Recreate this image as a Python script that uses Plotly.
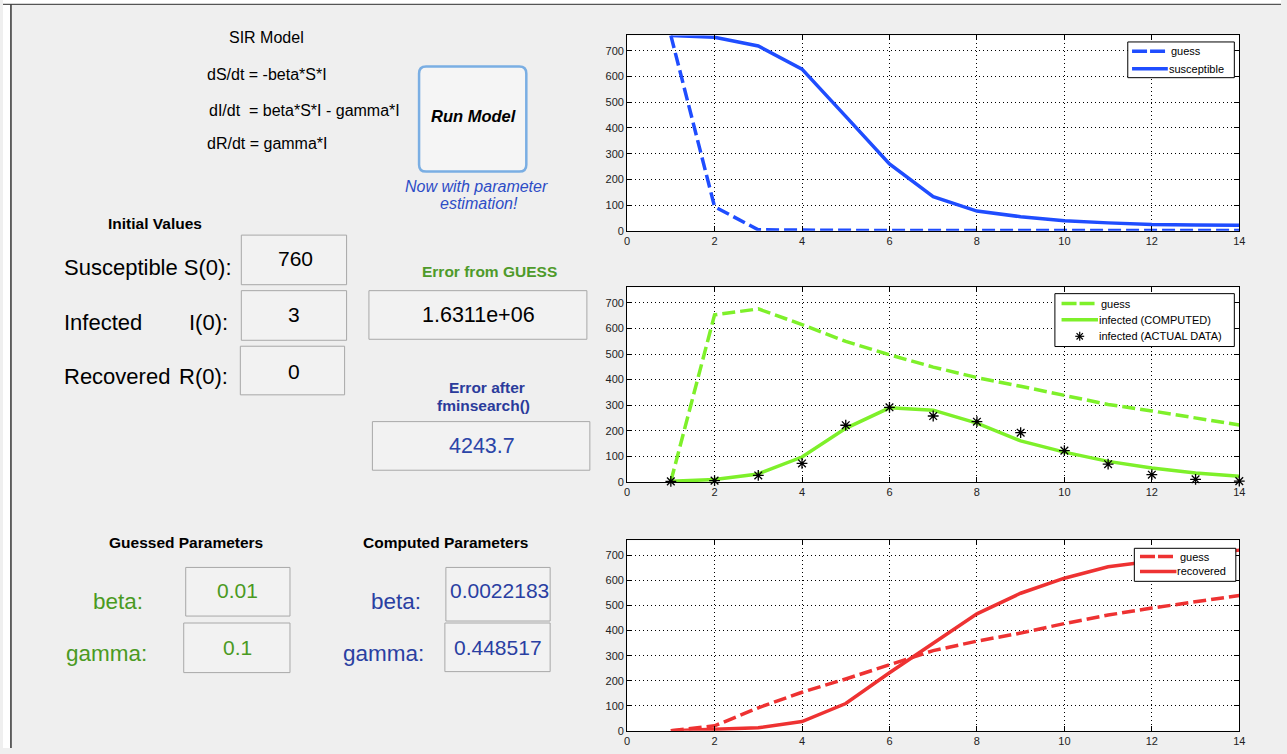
import plotly.graph_objects as go

W, H = 1287, 754
def px(x): return x / W
def py(y): return 1 - y / H

# ---------------- data ----------------
days = list(range(1, 15))
x_ticks = [0, 2, 4, 6, 8, 10, 12, 14]
y_ticks = [0, 100, 200, 300, 400, 500, 600, 700]

s_guess = [760, 94, 4, 2, 1, 1, 1, 1, 1, 1, 1, 1, 1, 1]
s_fit = [760, 753, 719, 629, 445, 260, 133, 77, 55, 39, 31, 25, 23, 22]

i_guess = [3, 653, 676, 615, 549, 497, 449, 408, 374, 337, 303, 278, 252, 223]
i_fit = [3, 10, 32, 98, 210, 290, 281, 230, 161, 117, 81, 55, 36, 23]
i_data = [3, 6, 26, 73, 222, 292, 258, 236, 193, 123, 70, 29, 11, 4]

r_guess = [0, 20, 92, 154, 207, 262, 320, 358, 390, 428, 462, 490, 515, 540]
r_fit = [0, 6, 12, 37, 109, 232, 351, 467, 549, 609, 655, 677, 700, 721]

BLUE = '#1f4dff'
GREEN = '#7ef02a'
RED = '#ee3232'
DASH = '13px,5px'
FONT = 'Liberation Sans'
TXT_GREEN = '#4a9a22'
TXT_BLUE = '#2a3fa2'

fig = go.Figure()

def line_trace(y, color, dash, ax):
    fig.add_trace(go.Scatter(x=days, y=y, mode='lines', showlegend=False,
                             line=dict(color=color, width=3.5, dash=dash),
                             xaxis='x' + ax, yaxis='y' + ax, hoverinfo='skip'))

line_trace(s_guess, BLUE, DASH, '')
line_trace(s_fit, BLUE, 'solid', '')
line_trace(i_guess, GREEN, DASH, '2')
line_trace(i_fit, GREEN, 'solid', '2')
fig.add_trace(go.Scatter(x=days, y=i_data, mode='markers', showlegend=False,
                         marker=dict(symbol='asterisk-open', size=9, color='black',
                                     line=dict(color='black', width=1.3)),
                         xaxis='x2', yaxis='y2', cliponaxis=False, hoverinfo='skip'))
line_trace(r_guess, RED, DASH, '3')
line_trace(r_fit, RED, 'solid', '3')

# ---------------- axes ----------------
def xax(anchor):
    return dict(domain=[px(628.5), px(1245)], range=[0, 14], tickvals=x_ticks,
                anchor=anchor, showline=True, linecolor='black', linewidth=1,
                mirror='ticks', ticks='inside', ticklen=5, tickcolor='black',
                showgrid=True, gridcolor='black', griddash='1px,3px', gridwidth=1,
                zeroline=False, fixedrange=True,
                tickfont=dict(family=FONT, size=11, color='#222'))

def yax(anchor, top, bot):
    return dict(domain=[py(bot), py(top)], range=[0, 760], tickvals=y_ticks,
                anchor=anchor, showline=True, linecolor='black', linewidth=1,
                mirror='ticks', ticks='inside', ticklen=5, tickcolor='black',
                showgrid=True, gridcolor='black', griddash='1px,3px', gridwidth=1,
                zeroline=False, fixedrange=True,
                tickfont=dict(family=FONT, size=11, color='#222'))

fig.update_layout(
    width=W, height=H, margin=dict(l=0, r=0, t=0, b=0),
    paper_bgcolor='#efefef', plot_bgcolor='white', showlegend=False,
    xaxis=xax('y'), yaxis=yax('x', 35.7, 232.7),
    xaxis2=xax('y2'), yaxis2=yax('x2', 289.7, 486),
    xaxis3=xax('y3'), yaxis3=yax('x3', 544.7, 736.7),
)

shapes = []
def rect(x0, y0, x1, y1, fill, line='#a8a8a8', lw=1, layer='above'):
    shapes.append(dict(type='rect', xref='paper', yref='paper',
                       x0=px(x0), x1=px(x1), y0=py(y1), y1=py(y0),
                       fillcolor=fill, line=dict(color=line, width=lw), layer=layer))

def seg(x0, y0, x1, y1, color, width, dash='solid'):
    shapes.append(dict(type='line', xref='paper', yref='paper',
                       x0=px(x0), x1=px(x1), y0=py(y0), y1=py(y1),
                       line=dict(color=color, width=width, dash=dash)))

def txt(x, y, s, size, color='black', bold=False, italic=False, anchor='center'):
    if bold:
        s = '<b>' + s + '</b>'
    if italic:
        s = '<i>' + s + '</i>'
    fig.add_annotation(x=px(x), y=py(y), xref='paper', yref='paper', text=s,
                       showarrow=False, xanchor=anchor, yanchor='middle',
                       font=dict(family=FONT, size=size, color=color))

# window frame
rect(0, 0, W, 4.5, 'white', line='white', lw=0, layer='below')
rect(0, 0, 8, H, 'white', line='white', lw=0, layer='below')
seg(0, 4.5, W, 4.5, '#555', 1.2)
seg(8, 4.5, 8, H, '#333', 1.5)

# ---------------- left panel ----------------
txt(265, 38, 'SIR Model', 16)
txt(203, 75, 'dS/dt = -beta*S*I', 16, anchor='left')
txt(205, 111, 'dI/dt  = beta*S*I - gamma*I', 16, anchor='left')
txt(203, 145, 'dR/dt = gamma*I', 16, anchor='left')

# button
bx0, by0, bx1, by1, r = 419, 67, 527, 173, 7
def P(x, y): return f'{px(x):.6f},{py(y):.6f}'
path = (f'M {P(bx0 + r, by0)} L {P(bx1 - r, by0)} Q {P(bx1, by0)} {P(bx1, by0 + r)} '
        f'L {P(bx1, by1 - r)} Q {P(bx1, by1)} {P(bx1 - r, by1)} '
        f'L {P(bx0 + r, by1)} Q {P(bx0, by1)} {P(bx0, by1 - r)} '
        f'L {P(bx0, by0 + r)} Q {P(bx0, by0)} {P(bx0 + r, by0)} Z')
shapes.append(dict(type='path', xref='paper', yref='paper', path=path,
                   fillcolor='#f5f5f5', line=dict(color='#7aaee3', width=2.5)))
txt(474, 117, 'Run Model', 16.5, bold=True, italic=True)
txt(476.5, 188, 'Now with parameter', 16, color='#2d4cc6', italic=True)
txt(479, 205, 'estimation!', 16, color='#2d4cc6', italic=True)

txt(153, 225, 'Initial Values', 15.5, bold=True)
txt(59, 270, 'Susceptible S(0):', 22, anchor='left')
txt(59, 325, 'Infected', 22, anchor='left')
txt(229, 325, 'I(0):', 22, anchor='right')
txt(59, 379.5, 'Recovered', 22, anchor='left')
txt(229, 379.5, 'R(0):', 22, anchor='right')
rect(240, 237, 346, 287, '#f2f2f2')
rect(240, 293, 346, 343, '#f2f2f2')
rect(239, 349, 344, 398, '#f2f2f2')
txt(295, 261, '760', 21)
txt(293, 317.5, '3', 21)
txt(293, 374.5, '0', 21)

txt(489.5, 274, 'Error from GUESS', 15.5, color='#4e9a2a', bold=True)
rect(368.5, 293, 588, 342, '#f2f2f2')
txt(479, 317.5, '1.6311e+06', 21.5)
txt(487, 391, 'Error after', 15.5, color='#2b3b9b', bold=True)
txt(484, 408.5, 'fminsearch()', 15.5, color='#2b3b9b', bold=True)
rect(372, 425, 591, 474, '#f2f2f2')
txt(482, 450, '4243.7', 21.5, color='#2b45a8')

txt(184.5, 547, 'Guessed Parameters', 15.5, bold=True)
txt(446, 547, 'Computed Parameters', 15.5, bold=True)
txt(143.5, 606, 'beta:', 22.5, color=TXT_GREEN, anchor='right')
txt(146.6, 659, 'gamma:', 22.5, color=TXT_GREEN, anchor='right')
rect(184, 572, 289, 621, '#f2f2f2')
rect(182, 628, 289, 678, '#f2f2f2')
txt(236, 595.5, '0.01', 21, color=TXT_GREEN)
txt(236, 652.5, '0.1', 21, color=TXT_GREEN)
txt(423, 606, 'beta:', 22.5, color=TXT_BLUE, anchor='right')
txt(425.6, 659, 'gamma:', 22.5, color=TXT_BLUE, anchor='right')
rect(446, 572, 551, 626, '#f2f2f2')
rect(445, 628, 551, 677, '#f2f2f2')
txt(499.5, 595.5, '0.0022183', 21, color=TXT_BLUE)
txt(498.5, 652.5, '0.448517', 21, color=TXT_BLUE)

# ---------------- legends ----------------
LEG = 11
# legend 1
rect(1132.7, 42.3, 1240, 78.3, 'white', line='black', lw=1)
seg(1137, 51.7, 1171, 51.7, BLUE, 3.5, '15px,3px')
seg(1137, 69.3, 1173, 69.3, BLUE, 3.5)
txt(1174, 51.7, 'guess', LEG, anchor='left')
txt(1172, 69.3, 'susceptible', LEG, anchor='left')
# legend 2
rect(1059.3, 296, 1240, 349.3, 'white', line='black', lw=1)
seg(1066, 306, 1100, 306, GREEN, 3.5, '15px,3px')
seg(1066, 322.3, 1102.7, 322.3, GREEN, 3.5)
sx, sy = 1084.3, 339
seg(sx - 4.5, sy, sx + 4.5, sy, 'black', 1.2)
seg(sx, sy - 4.5, sx, sy + 4.5, 'black', 1.2)
seg(sx - 3.2, sy - 3.2, sx + 3.2, sy + 3.2, 'black', 1.2)
seg(sx - 3.2, sy + 3.2, sx + 3.2, sy - 3.2, 'black', 1.2)
txt(1103.5, 306, 'guess', LEG, anchor='left')
txt(1101.5, 322.3, 'infected (COMPUTED)', LEG, anchor='left')
txt(1101.5, 339, 'infected (ACTUAL DATA)', LEG, anchor='left')
# legend 3
rect(1139.3, 552.7, 1241.5, 586, 'white', line='black', lw=1)
seg(1145, 561, 1179, 561, RED, 3.5, '15px,3px')
seg(1145, 576, 1181.7, 576, RED, 3.5)
txt(1183, 561, 'guess', LEG, anchor='left')
txt(1180.5, 576, 'recovered', LEG, anchor='left')

fig.update_layout(shapes=shapes)
fig.write_html('out.html', config={'displayModeBar': False},
               post_script="document.body.style.margin='0';document.body.style.overflow='hidden';")
